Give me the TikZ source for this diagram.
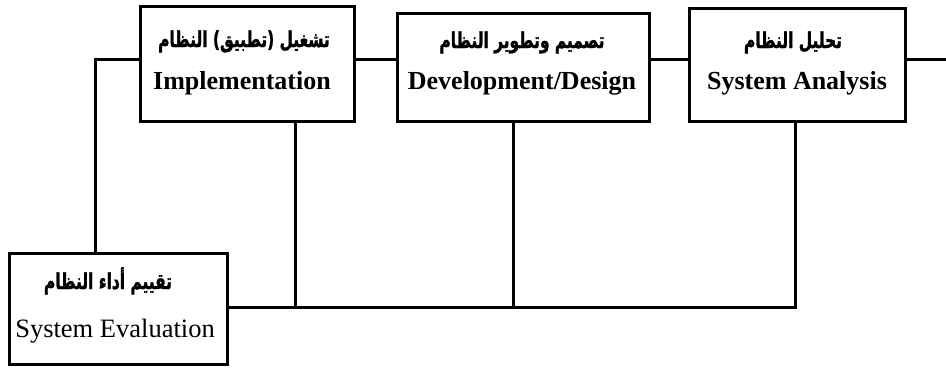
\documentclass[tikz,border=0pt]{standalone}
\usepackage{fontspec}
\setmainfont{Liberation Serif}
\newfontfamily\arheavy[Script=Arabic,FakeBold=1.8]{DejaVu Sans Bold}
\TeXXeTstate=1
% condensed, heavy Arabic caption set right to left
\newcommand\arcaption[1]{\scalebox{0.7}[1]{\arheavy\fontsize{22}{24}\selectfont\beginR #1\endR}}
\begin{document}
\begin{tikzpicture}[x=1pt,y=-1pt,
  stage/.style={draw, line width=3.2pt, fill=white, inner sep=0pt, anchor=north west},
  link/.style={line width=3pt},
  artext/.style={anchor=base, inner sep=0pt},
  entext/.style={anchor=base, inner sep=0pt, font=\bfseries\fontsize{26}{28}\selectfont},
  entextlight/.style={anchor=base, inner sep=0pt, font=\fontsize{26.5}{28}\selectfont}]
\useasboundingbox (0,0) rectangle (946,368);

% stage boxes
\node[stage, minimum width=214pt, minimum height=115pt] (impl) at (139,5) {};
\node[stage, minimum width=252pt, minimum height=108pt] (dev) at (396,12) {};
\node[stage, minimum width=216pt, minimum height=113pt] (ana) at (688,7) {};
\node[stage, minimum width=218pt, minimum height=111pt] (eval) at (8,252) {};

% junction points of the feedback wiring
\coordinate (tl) at (95,59);
\coordinate (tr) at (946,59);
\coordinate (b1) at (295,307);
\coordinate (b2) at (513,307);
\coordinate (b3) at (795,307);

% forward chain along the top
\draw[link] (tl |- eval.north) -- (tl) -- (impl.west |- tl);
\draw[link] (impl.east |- tl) -- (dev.west |- tl);
\draw[link] (dev.east |- tl) -- (ana.west |- tl);
\draw[link] (ana.east |- tl) -- (tr);

% feedback bus along the bottom
\draw[link] (eval.east |- b1) -- (b3) -- (b3 |- ana.south);
\draw[link] (b1) -- (b1 |- impl.south);
\draw[link] (b2) -- (b2 |- dev.south);

% labels
\node[artext] (impl-ar) at (244,47) {\arcaption{تشغيل (تطبيق) النظام}};
\node[entext] (impl-en) at (242,89) {Implementation};
\node[artext] (dev-ar) at (522,48) {\arcaption{تصميم وتطوير النظام}};
\node[entext] (dev-en) at (522,89) {Development/Design};
\node[artext] (ana-ar) at (793,48) {\arcaption{تحليل النظام}};
\node[entext] (ana-en) at (797,89) {System Analysis};
\node[artext] (eval-ar) at (108,289) {\arcaption{تقييم أداء النظام}};
\node[entextlight] (eval-en) at (115,337) {System Evaluation};
\end{tikzpicture}
\end{document}
